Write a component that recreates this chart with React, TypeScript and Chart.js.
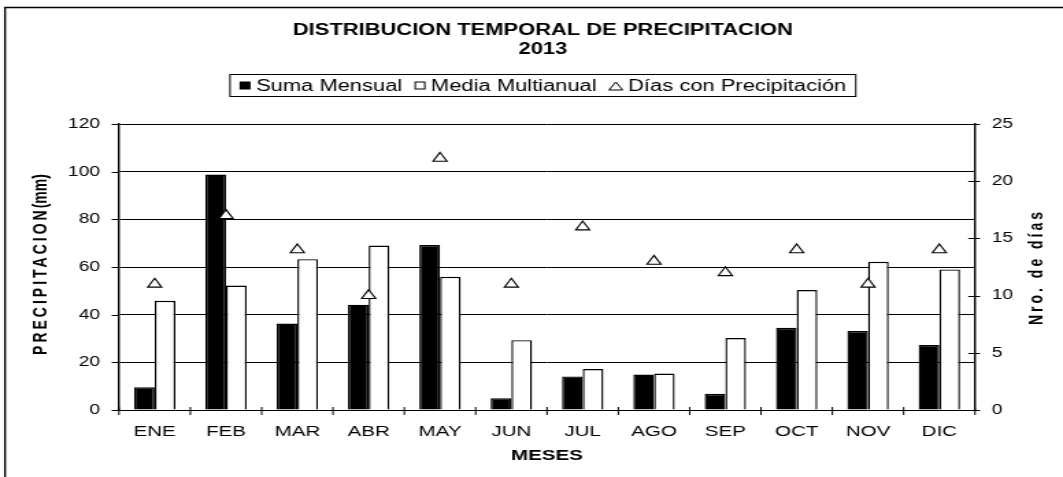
import React, { useEffect, useRef } from 'react';
import { Chart, registerables } from 'chart.js';

Chart.register(...registerables);

const months = ['ENE', 'FEB', 'MAR', 'ABR', 'MAY', 'JUN', 'JUL', 'AGO', 'SEP', 'OCT', 'NOV', 'DIC'];
const sumaMensual = [9.5, 98.8, 36.3, 44.2, 69.2, 4.9, 14.1, 14.9, 6.8, 34.5, 33.1, 27.3];
const mediaMultianual = [45.8, 52.2, 63.3, 69.0, 55.9, 29.3, 17.2, 15.3, 30.2, 50.3, 62.2, 59.0];
const diasPrecipitacion = [11, 17, 14, 10, 22, 11, 16, 13, 12, 14, 11, 14];
const leftTicks = [0, 20, 40, 60, 80, 100, 120];
const rightTicks = [0, 5, 10, 15, 20, 25];
const titleLines = ['DISTRIBUCION TEMPORAL DE PRECIPITACION', '2013'];
const legendLabels = ['Suma Mensual', 'Media Multianual', 'Días con Precipitación'];
const yTitleMain = 'PRECIPITACION';
const yTitleUnit = '(mm)';
const y1Title = 'Nro. de días';
const xTitle = 'MESES';

const FONT = '"Liberation Sans", Arial, Helvetica, sans-serif';
const OUT_W = 1063;
const OUT_H = 477;
const CW = 776; // internal canvas width (stretched horizontally to OUT_W)
const S = OUT_W / CW;
const PLOT_LEFT = 119 / S;
const PLOT_RIGHT = 975 / S;
const PLOT_TOP = 124;
const PLOT_BOTTOM = 410;

const decorPlugin = {
  id: 'decor',
  beforeDraw(chart: any) {
    const ctx = chart.ctx;
    ctx.save();
    ctx.fillStyle = '#fff';
    ctx.fillRect(0, 0, chart.width, chart.height);
    ctx.strokeStyle = '#000';
    ctx.lineWidth = 1.4;
    ctx.beginPath();
    ctx.moveTo(5 / S, chart.height);
    ctx.lineTo(5 / S, 7.5);
    ctx.lineTo(chart.width, 7.5);
    ctx.stroke();
    ctx.restore();
  },
  afterDraw(chart: any) {
    const { ctx, chartArea: ca, scales } = chart;
    const cx = (ca.left + ca.right) / 2;
    ctx.save();
    ctx.fillStyle = '#000';
    ctx.strokeStyle = '#000';
    // Title
    ctx.textAlign = 'center';
    ctx.textBaseline = 'middle';
    ctx.font = `bold 16px ${FONT}`;
    ctx.fillText(titleLines[0], cx - 3, 30.5);
    ctx.fillText(titleLines[1], cx - 3, 49.5);

    // Legend
    ctx.font = `16px ${FONT}`;
    const markerW = [8, 8, 10];
    const gap = 4, sep = 9, pad = 7;
    const widths = legendLabels.map((t) => ctx.measureText(t).width);
    let total = pad * 2 + sep * 2;
    widths.forEach((w, i) => (total += markerW[i] + gap + w));
    const bx = cx - 3 - total / 2;
    const by = 74.5;
    const bh = 22;
    ctx.lineWidth = 1;
    ctx.strokeRect(bx, by, total, bh);
    let x = bx + pad;
    const my = by + bh / 2;
    ctx.textAlign = 'left';
    legendLabels.forEach((t, i) => {
      if (i === 0) {
        ctx.fillStyle = '#000';
        ctx.fillRect(x, my - 4, 8, 8);
      } else if (i === 1) {
        ctx.fillStyle = '#fff';
        ctx.fillRect(x + 0.5, my - 3.5, 7, 7);
        ctx.strokeRect(x + 0.5, my - 3.5, 7, 7);
      } else {
        ctx.beginPath();
        ctx.moveTo(x + 5, my - 3.5);
        ctx.lineTo(x + 10, my + 4.5);
        ctx.lineTo(x, my + 4.5);
        ctx.closePath();
        ctx.stroke();
      }
      ctx.fillStyle = '#000';
      ctx.fillText(t, x + markerW[i] + gap, my + 1);
      x += markerW[i] + gap + widths[i] + sep;
    });

    // Tick marks
    ctx.lineWidth = 1;
    ctx.beginPath();
    leftTicks.forEach((v) => {
      const y = Math.round(scales.y.getPixelForValue(v)) + 0.5;
      ctx.moveTo(ca.left - 5.3, y);
      ctx.lineTo(ca.left, y);
    });
    rightTicks.forEach((v) => {
      const y = Math.round(scales.y1.getPixelForValue(v)) + 0.5;
      ctx.moveTo(ca.right - 4.9, y);
      ctx.lineTo(ca.right + 3.7, y);
    });
    const xs = scales.x;
    const cw = xs.getPixelForValue(1) - xs.getPixelForValue(0);
    for (let k = 0; k <= months.length; k++) {
      const xx = xs.getPixelForValue(0) - cw / 2 + k * cw;
      ctx.moveTo(xx, ca.bottom - 3);
      ctx.lineTo(xx, ca.bottom + 5);
    }
    ctx.stroke();

    // Left axis title (rotated, letter-spaced)
    ctx.font = `bold 14px ${FONT}`;
    ctx.textBaseline = 'middle';
    ctx.textAlign = 'left';
    (ctx as any).letterSpacing = '3px';
    const w1 = ctx.measureText(yTitleMain).width;
    (ctx as any).letterSpacing = '0px';
    const w2 = ctx.measureText(yTitleUnit).width;
    ctx.save();
    ctx.translate(30, (ca.top + ca.bottom) / 2 - 3);
    ctx.rotate(-Math.PI / 2);
    const start = -(w1 + w2) / 2;
    (ctx as any).letterSpacing = '3px';
    ctx.fillText(yTitleMain, start, 0);
    (ctx as any).letterSpacing = '0px';
    ctx.fillText(yTitleUnit, start + w1 - 1, 0);
    ctx.restore();

    // Right axis title
    ctx.save();
    (ctx as any).letterSpacing = '3px';
    const w3 = ctx.measureText(y1Title).width;
    ctx.translate(1037 / S, (ca.top + ca.bottom) / 2);
    ctx.rotate(-Math.PI / 2);
    ctx.fillText(y1Title, -w3 / 2, 0);
    (ctx as any).letterSpacing = '0px';
    ctx.restore();

    ctx.restore();
  },
};

export default function App() {
  const ref = useRef<HTMLCanvasElement | null>(null);
  useEffect(() => {
    if (!ref.current) return;
    Chart.defaults.font.family = FONT;
    const chart = new Chart(ref.current, {
      type: 'bar',
      data: {
        labels: months,
        datasets: [
          {
            type: 'bar',
            label: legendLabels[0],
            data: sumaMensual,
            backgroundColor: '#000',
            borderColor: '#000',
            borderWidth: 1.4,
            yAxisID: 'y',
            categoryPercentage: 0.58,
            barPercentage: 1,
            order: 2,
          },
          {
            type: 'bar',
            label: legendLabels[1],
            data: mediaMultianual,
            backgroundColor: '#fff',
            borderColor: '#000',
            borderWidth: 1.4,
            yAxisID: 'y',
            categoryPercentage: 0.58,
            barPercentage: 1,
            order: 2,
          },
          {
            type: 'line',
            label: legendLabels[2],
            data: diasPrecipitacion,
            yAxisID: 'y1',
            showLine: false,
            pointStyle: 'triangle',
            pointRadius: 5.9,
            pointBackgroundColor: '#fff',
            pointBorderColor: '#000',
            pointBorderWidth: 1.1,
            order: 0,
          } as any,
        ],
      },
      options: {
        responsive: false,
        devicePixelRatio: 1,
        animation: false,
        events: [],
        layout: { padding: { top: PLOT_TOP, left: 0, right: 0, bottom: 0 } },
        plugins: {
          legend: { display: false },
          title: { display: false },
          tooltip: { enabled: false },
        },
        scales: {
          x: {
            grid: { display: false, drawTicks: false },
            border: { display: true, color: '#000', width: 1 },
            ticks: { color: '#000', font: { size: 15, family: FONT }, padding: 12.5 },
            title: {
              display: true,
              text: xTitle,
              color: '#000',
              font: { size: 15, weight: 'bold', family: FONT },
              padding: { top: 0, bottom: 12.5 },
            },
            afterFit(scale: any) {
              scale.height = OUT_H - PLOT_BOTTOM;
            },
          },
          y: {
            position: 'left',
            min: 0,
            max: 120,
            ticks: { stepSize: 20, color: '#000', font: { size: 14, family: FONT }, padding: 13.9 },
            grid: { color: '#000', lineWidth: 1, drawTicks: false },
            border: { display: true, color: '#000', width: 1.4 },
            afterFit(scale: any) {
              scale.width = PLOT_LEFT;
            },
          },
          y1: {
            position: 'right',
            min: 0,
            max: 25,
            ticks: { stepSize: 5, color: '#000', font: { size: 14, family: FONT }, padding: 12.2 },
            grid: { drawOnChartArea: false, drawTicks: false },
            border: { display: true, color: '#000', width: 1.4 },
            afterFit(scale: any) {
              scale.width = CW - PLOT_RIGHT;
            },
          },
        },
      } as any,
      plugins: [decorPlugin],
    });
    return () => chart.destroy();
  }, []);

  return (
    <div style={{ position: 'fixed', left: 0, top: 0, width: OUT_W, height: OUT_H, background: '#fff', overflow: 'hidden' }}>
      <canvas
        ref={ref}
        width={CW}
        height={OUT_H}
        style={{ width: `${OUT_W}px`, height: `${OUT_H}px`, display: 'block' }}
      />
    </div>
  );
}
